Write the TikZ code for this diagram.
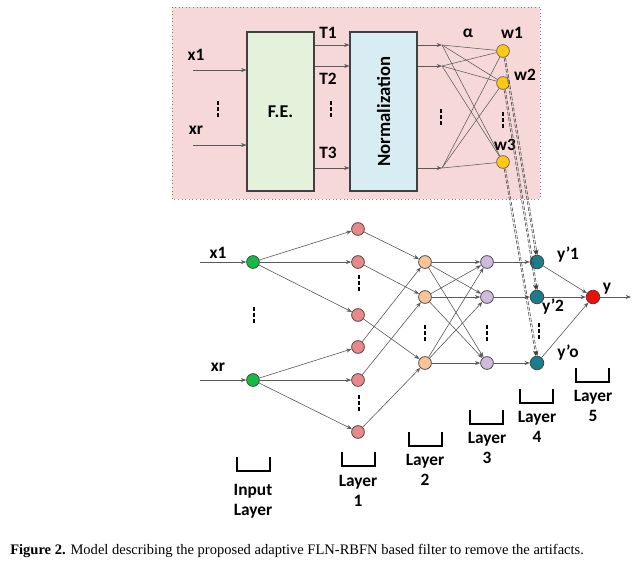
\documentclass[tikz,border=0pt]{standalone}
\usepackage{fontspec}
\setmainfont{Liberation Serif}
\newfontfamily\labfont{Carlito}
\usetikzlibrary{arrows.meta}
\definecolor{panelpink}{RGB}{247,216,216}
\definecolor{fegreen}{RGB}{228,242,220}
\definecolor{normblue}{RGB}{216,237,243}
\definecolor{wyellow}{RGB}{255,200,20}
\definecolor{ingreen}{RGB}{20,185,70}
\definecolor{lonered}{RGB}{232,136,136}
\definecolor{ltwopeach}{RGB}{250,196,150}
\definecolor{lthreelav}{RGB}{205,188,222}
\definecolor{lfourteal}{RGB}{25,125,140}
\definecolor{outred}{RGB}{245,10,10}
\begin{document}
\begin{tikzpicture}[x=0.75pt,y=-0.75pt,
  lab/.style={font=\labfont\bfseries\fontsize{13}{14}\selectfont, inner sep=0pt},
  neuron/.style={circle, draw=black!75, line width=0.55pt, minimum size=9.6pt, inner sep=0pt},
  conn/.style={draw=black!65, line width=0.45pt, -{Stealth[length=4pt,width=3pt]}},
  link/.style={draw=black!65, line width=0.4pt},
  wlink/.style={draw=black!75, line width=0.4pt, dash pattern=on 3pt off 1.2pt, -{Stealth[length=4pt,width=3pt]}},
  vdots/.style={line width=1.5pt, dash pattern=on 3.2pt off 1.3pt},
  bracket/.style={line width=1.4pt},
  blk/.style={draw=black!75, line width=0.8pt, inner sep=0pt, minimum width=50.25pt, minimum height=119.25pt},
]
\useasboundingbox (0,0) rectangle (641,562);

% ---------- feature extraction panel ----------
\fill[panelpink] (172,7) rectangle (540,199);
\draw[gray, dotted, line width=0.7pt] (172,7) rectangle (540,199);

\node[blk, fill=fegreen] (fe) at (280.5,111.5) {};
\node[lab, font=\labfont\bfseries\fontsize{13.5}{15}\selectfont] (fetext) at (fe.center) {F.E.};
\node[blk, fill=normblue] (norm) at (383.5,111.5) {};
\node[lab, rotate=90, font=\labfont\bfseries\fontsize{14}{15}\selectfont] (normtext) at (norm.center) {Normalization};

\coordinate (inA) at (193,70);
\coordinate (inB) at (193,145);
\draw[conn] (inA) -- (inA -| fe.west);
\draw[conn] (inB) -- (inB -| fe.west);
\node[lab] (lx1a) at (196,55) {x1};
\node[lab] (lxra) at (196,130) {xr};
\draw[vdots] (218,101) -- (218,117.5);

\coordinate (rowA) at (0,45);
\coordinate (rowB) at (0,66);
\coordinate (rowC) at (0,168);
\draw[conn] (fe.east |- rowA) -- (norm.west |- rowA);
\draw[conn] (fe.east |- rowB) -- (norm.west |- rowB);
\draw[conn] (fe.east |- rowC) -- (norm.west |- rowC);
\node[lab] (lt1) at (328,33) {T1};
\node[lab] (lt2) at (328,79) {T2};
\node[lab] (lt3) at (328,153) {T3};
\draw[vdots] (331,101) -- (331,117.5);

\coordinate (pA) at (442,45);
\coordinate (pB) at (442,66);
\coordinate (pC) at (442,168);
\draw[conn] (norm.east |- rowA) -- (pA);
\draw[conn] (norm.east |- rowB) -- (pB);
\draw[conn] (norm.east |- rowC) -- (pC);
\draw[vdots] (441,109) -- (441,125.5);

\node[neuron, fill=wyellow, draw=black!60] (w1) at (503,51) {};
\node[neuron, fill=wyellow, draw=black!60] (w2) at (503,83) {};
\node[neuron, fill=wyellow, draw=black!60] (w3) at (503,162) {};
\foreach \p in {pA,pB,pC}
  \foreach \w in {w1,w2,w3}
    \draw[link] (\p) -- (\w);
\draw[vdots] (503,112) -- (503,128.5);
\node[lab] (lalpha) at (468,33) {\fontspec{Carlito}\bfseries α};
\node[lab] (lw1) at (512,33) {w1};
\node[lab] (lw2) at (525,75) {w2};
\node[lab] (lw3) at (505,145) {w3};

% ---------- layered network ----------
\node[neuron, fill=ingreen] (g1) at (253,262) {};
\node[neuron, fill=ingreen] (g2) at (253,380) {};

\node[neuron, fill=lonered] (r1) at (358,229) {};
\node[neuron, fill=lonered] (r2) at (358,262) {};
\node[neuron, fill=lonered] (r3) at (358,315) {};
\node[neuron, fill=lonered] (r4) at (358,347) {};
\node[neuron, fill=lonered] (r5) at (358,380) {};
\node[neuron, fill=lonered] (r6) at (358,432) {};

\node[neuron, fill=ltwopeach] (o1) at (425,262) {};
\node[neuron, fill=ltwopeach] (o2) at (425,297) {};
\node[neuron, fill=ltwopeach] (o3) at (425,363) {};

\node[neuron, fill=lthreelav] (p1) at (487,262) {};
\node[neuron, fill=lthreelav] (p2) at (487,297) {};
\node[neuron, fill=lthreelav] (p3) at (487,363) {};

\node[neuron, fill=lfourteal, minimum size=10.2pt] (t1) at (537,262) {};
\node[neuron, fill=lfourteal, minimum size=10.2pt] (t2) at (537,297) {};
\node[neuron, fill=lfourteal, minimum size=10.2pt] (t3) at (537,363) {};

\node[neuron, fill=outred, minimum size=10.2pt] (yo) at (593,297) {};

% inputs
\coordinate (xA) at (200,262);
\coordinate (xB) at (200,380);
\draw[conn] (xA) -- (g1);
\draw[conn] (xB) -- (g2);
\node[lab] (lx1) at (218,253) {x1};
\node[lab] (lxr) at (218,367) {xr};

% input -> layer 1
\foreach \r in {r1,r2,r3} \draw[conn] (g1) -- (\r);
\foreach \r in {r4,r5,r6} \draw[conn] (g2) -- (\r);

% layer 1 -> layer 2
\draw[conn] (r1) -- (o1);
\draw[conn] (r2) -- (o2);
\draw[conn] (r3) -- (o3);
\draw[conn] (r4) -- (o1);
\draw[conn] (r5) -- (o2);
\draw[conn] (r6) -- (o3);

% layer 2 -> layer 3
\foreach \o in {o1,o2,o3}
  \foreach \q in {p1,p2,p3}
    \draw[conn] (\o) -- (\q);

% layer 3 -> layer 4
\draw[conn] (p1) -- (t1);
\draw[conn] (p2) -- (t2);
\draw[conn] (p3) -- (t3);

% layer 4 -> output
\foreach \t in {t1,t2,t3} \draw[conn] (\t) -- (yo);
\coordinate (yend) at (631,297);
\draw[conn] (yo) -- (yend);

% weights into layer 4
\draw[wlink] (w1) -- (t1);
\draw[wlink, transform canvas={xshift=1.1pt}] (w1) -- (t1);
\draw[wlink] (w2) -- (t2);
\draw[wlink, transform canvas={xshift=1.1pt}] (w2) -- (t2);
\draw[wlink] (w3) -- (t3);
\draw[wlink, transform canvas={xshift=1.1pt}] (w3) -- (t3);

% ellipsis marks
\draw[vdots] (254,307) -- (254,323.5);
\draw[vdots] (359,275) -- (359,291.5);
\draw[vdots] (359,395) -- (359,411.5);
\draw[vdots] (425,325) -- (425,341.5);
\draw[vdots] (487,325) -- (487,341.5);
\draw[vdots] (539,323) -- (539,339.5);

% output labels
\node[lab] (ly1) at (568,255) {y’1};
\node[lab] (ly2) at (553,307) {y’2};
\node[lab] (lyo) at (568,353) {y’o};
\node[lab] (ly) at (607,289) {y};

% layer brackets and names
\draw[bracket] (237,457) -- (237,471) -- (270,471) -- (270,457);
\node[lab, align=center] (nin) at (253,501) {Input\\[1pt]Layer};
\draw[bracket] (342,452) -- (342,466) -- (375,466) -- (375,452);
\node[lab, align=center] (n1) at (358,491) {Layer\\[1pt]1};
\draw[bracket] (409,432) -- (409,446) -- (442,446) -- (442,432);
\node[lab, align=center] (n2) at (425,470) {Layer\\[1pt]2};
\draw[bracket] (470,410) -- (470,424) -- (503,424) -- (503,410);
\node[lab, align=center] (n3) at (487,448) {Layer\\[1pt]3};
\draw[bracket] (520,389) -- (520,403) -- (553,403) -- (553,389);
\node[lab, align=center] (n4) at (537,427) {Layer\\[1pt]4};
\draw[bracket] (576,368) -- (576,382) -- (609,382) -- (609,368);
\node[lab, align=center] (n5) at (593,406) {Layer\\[1pt]5};

% caption
\node[anchor=west, inner sep=0pt, font=\fontsize{10.9}{12}\selectfont] (cap) at (10,551)
  {\textbf{Figure 2.} Model describing the proposed adaptive FLN-RBFN based filter to remove the artifacts.};
\end{tikzpicture}
\end{document}
